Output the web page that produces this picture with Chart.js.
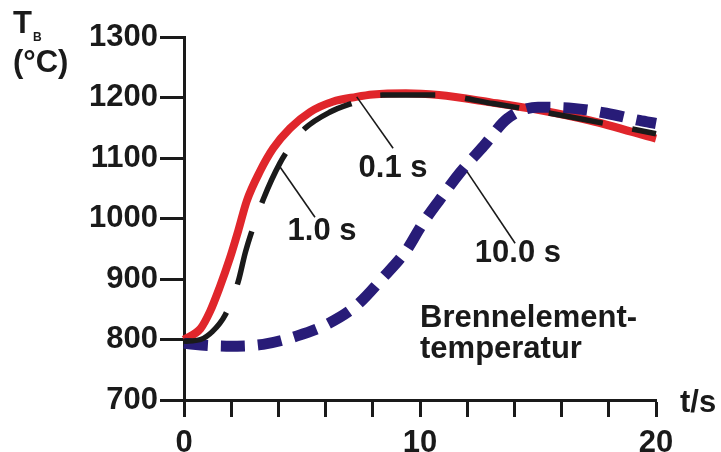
<!DOCTYPE html>
<html>
<head>
<meta charset="utf-8">
<script src="https://cdn.jsdelivr.net/npm/chart.js@4.4.1/dist/chart.umd.min.js"></script>
<style>
  html, body { margin: 0; padding: 0; background: #fff; }
  #wrap { width: 721px; height: 452px; }
</style>
</head>
<body>
<div id="wrap"><canvas id="myChart" width="721" height="452"></canvas></div>
<script>
// time axis (s) and fuel element temperature (°C)
const yTicks = [700, 800, 900, 1000, 1100, 1200, 1300];
const xLabels = [0, 10, 20];

const t01 = [0, 0.7, 1.1, 1.5, 1.95, 2.3, 2.66, 3.22, 3.78, 4.49, 5.34, 6.3, 7.3, 8.0, 9.4, 10.8, 13.0, 15.1, 17.2, 20];
const temp01 = [800, 818, 846, 885, 935, 980, 1029, 1078, 1116, 1149, 1176, 1193, 1201, 1205, 1207, 1204, 1192, 1179, 1162, 1132];

const t10 = [0, 0.7, 1.2, 1.75, 2.3, 2.6, 2.9, 3.36, 4.07, 4.6, 5.13, 6.19, 7.1, 8.4, 10.7, 13.1, 16.5, 20];
const temp10 = [797, 800, 813, 841, 896, 944, 982, 1032, 1092, 1124, 1149, 1176, 1190, 1204, 1204, 1190, 1167, 1140];

const t100 = [0, 0.4, 1.8, 3.35, 4.8, 6.1, 7.3, 8.4, 9.4, 10.1, 10.85, 11.7, 12.7, 13.7, 15.0, 16.5, 17.9, 19.3, 20];
const temp100 = [794, 792, 789, 792, 806, 826, 856, 901, 946, 991, 1032, 1076, 1120, 1165, 1184, 1182, 1174, 1162, 1157];

// curve labels with leader lines (data units)
const notes = [
  { text: "0.1 s", at: [8.86, 1083], from: [8.86, 1116], to: [7.32, 1201] },
  { text: "1.0 s", at: [5.85, 978], from: [5.55, 1002], to: [4.07, 1085] },
  { text: "10.0 s", at: [14.15, 943], from: [14.03, 959], to: [12.0, 1077] },
];

const toPts = (xs, ys) => xs.map((x, i) => ({ x: x, y: ys[i] }));
const FONT = "'Liberation Sans', Arial, Helvetica, sans-serif";
const INK = "#1a1a1a";

const extras = {
  id: "extras",
  afterDraw(chart) {
    const ctx = chart.ctx;
    const xs = chart.scales.x, ys = chart.scales.y;
    ctx.save();
    ctx.fillStyle = INK;
    ctx.strokeStyle = INK;

    // leader lines + labels
    ctx.lineWidth = 1.6;
    ctx.font = "bold 31px " + FONT;
    ctx.textAlign = "center";
    ctx.textBaseline = "middle";
    notes.forEach((n) => {
      ctx.beginPath();
      ctx.moveTo(xs.getPixelForValue(n.from[0]), ys.getPixelForValue(n.from[1]));
      ctx.lineTo(xs.getPixelForValue(n.to[0]), ys.getPixelForValue(n.to[1]));
      ctx.stroke();
      ctx.fillText(n.text, xs.getPixelForValue(n.at[0]), ys.getPixelForValue(n.at[1]));
    });

    // caption inside the plot
    ctx.textAlign = "left";
    ctx.textBaseline = "alphabetic";
    ctx.fillText("Brennelement-", xs.getPixelForValue(10), ys.getPixelForValue(821));
    ctx.fillText("temperatur", xs.getPixelForValue(10), ys.getPixelForValue(769));

    // axis titles
    ctx.fillText("t/s", chart.chartArea.right + 24, 412);
    ctx.fillText("T", 13, 33);
    ctx.fillText("(°C)", 13, 72);
    ctx.font = "bold 12px " + FONT;
    ctx.fillText("B", 33, 41);
    ctx.restore();
  },
};

const cxx = document.getElementById("myChart").getContext("2d");
new Chart(cxx, {
  type: "line",
  data: {
    datasets: [
      {
        label: "1.0 s",
        data: toPts(t10, temp10),
        borderColor: INK,
        borderWidth: 5.5,
        borderDash: [55, 30],
        borderCapStyle: "butt",
      },
      {
        label: "10.0 s",
        data: toPts(t100, temp100),
        borderColor: "#281c78",
        borderWidth: 11,
        borderDash: [24, 13],
        borderCapStyle: "butt",
      },
      {
        label: "0.1 s",
        data: toPts(t01, temp01),
        borderColor: "#e0262b",
        borderWidth: 8,
      },
    ],
  },
  options: {
    responsive: false,
    animation: false,
    devicePixelRatio: 1,
    layout: { padding: { top: 37, right: 65, left: 0, bottom: 0 } },
    elements: {
      point: { radius: 0 },
      line: { cubicInterpolationMode: "monotone", fill: false },
    },
    datasets: { line: { clip: false } },
    plugins: { legend: { display: false }, tooltip: { enabled: false } },
    scales: {
      x: {
        type: "linear",
        min: 0,
        max: 20,
        afterFit: (s) => { s.height = 52; },
        afterBuildTicks: (s) => {
          const arr = [];
          for (let v = 0; v <= 20; v += 2) arr.push({ value: v });
          s.ticks = arr;
        },
        ticks: {
          autoSkip: false,
          maxRotation: 0,
          padding: 8,
          color: INK,
          font: { family: FONT, size: 31, weight: "bold" },
          callback: (v) => (xLabels.includes(v) ? String(v) : ""),
        },
        grid: { drawOnChartArea: false, tickLength: 17, tickWidth: 3, tickColor: INK },
        border: { color: INK, width: 3 },
      },
      y: {
        type: "linear",
        min: 700,
        max: 1300,
        afterFit: (s) => { s.width = 184; },
        afterBuildTicks: (s) => { s.ticks = yTicks.map((v) => ({ value: v })); },
        ticks: {
          padding: 2,
          color: INK,
          font: { family: FONT, size: 31, weight: "bold" },
          callback: (v) => String(v),
        },
        grid: { drawOnChartArea: false, tickLength: 24, tickWidth: 3, tickColor: INK },
        border: { color: INK, width: 3 },
      },
    },
  },
  plugins: [extras],
});
</script>
</body>
</html>
